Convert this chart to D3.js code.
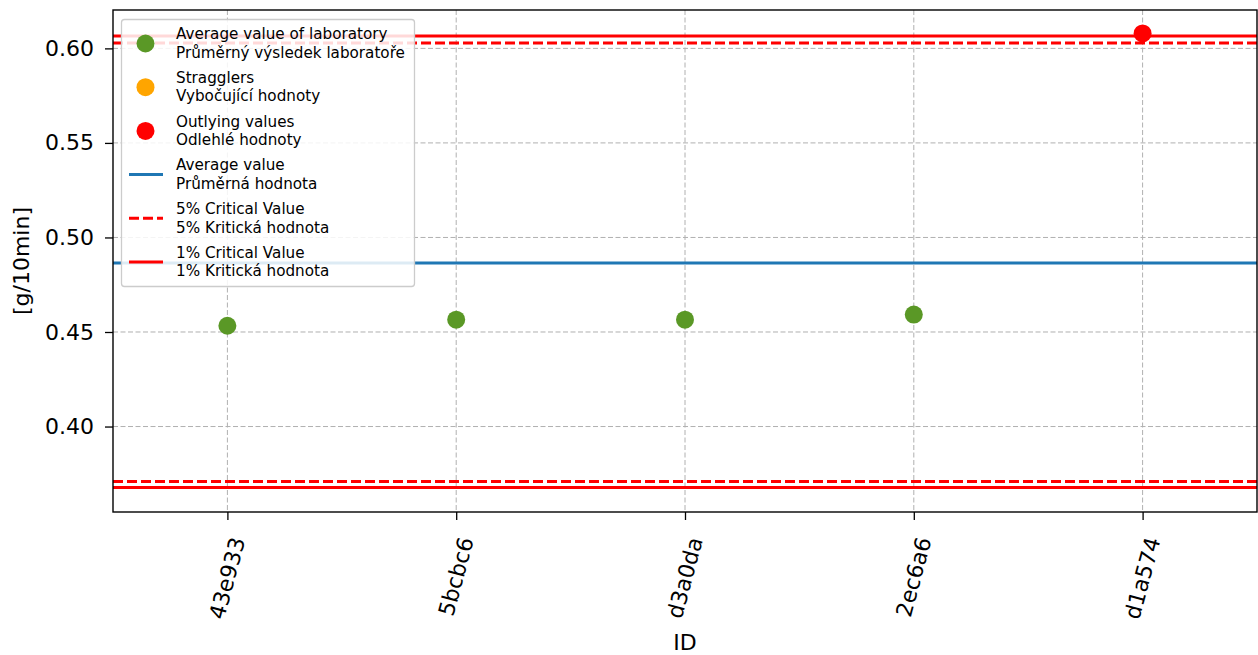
<!DOCTYPE html>
<html>
<head>
<meta charset="utf-8">
<script src="https://cdn.jsdelivr.net/npm/d3@7"></script>
<style>
  html, body { margin: 0; padding: 0; background: #fff; }
  svg { display: block; }
</style>
</head>
<body>
<svg id="chart" width="1258" height="655"></svg>
<script>
// ---- data ----
const ids = ["43e933", "5bcbc6", "d3a0da", "2ec6a6", "d1a574"];
const values = [0.4533, 0.4565, 0.4565, 0.4592, 0.6079];
const status = ["normal", "normal", "normal", "normal", "outlier"];
const averageValue = 0.4865;
const crit5 = [0.3709, 0.6029];
const crit1 = [0.3677, 0.6066];
const yTicks = [0.40, 0.45, 0.50, 0.55, 0.60];
const yDomain = [0.3548, 0.6203];
const yLabel = "[g/10min]";
const xLabel = "ID";
const legendItems = [
  { kind: "dot", color: "#5a9826", l1: "Average value of laboratory", l2: "Průměrný výsledek laboratoře" },
  { kind: "dot", color: "#ffa500", l1: "Stragglers", l2: "Vybočující hodnoty" },
  { kind: "dot", color: "#ff0000", l1: "Outlying values", l2: "Odlehlé hodnoty" },
  { kind: "line", color: "#1f77b4", dash: null, l1: "Average value", l2: "Průměrná hodnota" },
  { kind: "line", color: "#ff0000", dash: "10,4", l1: "5% Critical Value", l2: "5% Kritická hodnota" },
  { kind: "line", color: "#ff0000", dash: null, l1: "1% Critical Value", l2: "1% Kritická hodnota" }
];
const colorByStatus = { normal: "#5a9826", straggler: "#ffa500", outlier: "#ff0000" };

// ---- layout ----
const W = 1258, H = 655;
const m = { left: 113, right: 1, top: 10, bottom: 143 };
const x0 = m.left, x1 = W - m.right, y0 = m.top, y1 = H - m.bottom;
const tickFont = "'DejaVu Sans', sans-serif";
const tickSize = 22;
const legendFont = "'DejaVu Sans', sans-serif";
const legendSize = 15.2;

const svg = d3.select("#chart");
const x = d3.scalePoint().domain(ids).range([x0, x1]).padding(0.5);
const y = d3.scaleLinear().domain(yDomain).range([y1, y0]);

// grid
const grid = svg.append("g");
grid.selectAll("line.gx").data(ids).join("line")
  .attr("x1", d => x(d)).attr("x2", d => x(d))
  .attr("y1", y0).attr("y2", y1)
  .attr("stroke", "#b0b0b0").attr("stroke-width", 1).attr("stroke-dasharray", "5,2.5");
grid.selectAll("line.gy").data(yTicks).join("line")
  .attr("x1", x0).attr("x2", x1)
  .attr("y1", d => y(d)).attr("y2", d => y(d))
  .attr("stroke", "#b0b0b0").attr("stroke-width", 1).attr("stroke-dasharray", "5,2.5");

// reference lines
const refs = svg.append("g");
function hline(v, color, dash, w) {
  refs.append("line")
    .attr("x1", x0).attr("x2", x1)
    .attr("y1", y(v)).attr("y2", y(v))
    .attr("stroke", color).attr("stroke-width", w)
    .attr("stroke-dasharray", dash);
}
hline(averageValue, "#1f77b4", null, 3);
crit5.forEach(v => hline(v, "#ff0000", "10,4", 3));
crit1.forEach(v => hline(v, "#ff0000", null, 3));

// points
svg.append("g").selectAll("circle").data(ids).join("circle")
  .attr("cx", d => x(d))
  .attr("cy", (d, i) => y(values[i]))
  .attr("r", 9)
  .attr("fill", (d, i) => colorByStatus[status[i]]);

// frame
svg.append("rect").attr("x", x0).attr("y", y0)
  .attr("width", x1 - x0).attr("height", y1 - y0)
  .attr("fill", "none").attr("stroke", "#000").attr("stroke-width", 1.4);

// y axis
const yAxis = d3.axisLeft(y).tickValues(yTicks).tickFormat(d3.format(".2f"))
  .tickSize(8).tickPadding(11);
const gy = svg.append("g").attr("transform", `translate(${x0},0)`).call(yAxis);
gy.select(".domain").remove();
gy.selectAll(".tick line").attr("stroke", "#000").attr("stroke-width", 1.3);
gy.selectAll(".tick text").attr("font-family", tickFont).attr("font-size", tickSize).attr("fill", "#000");

// x axis
const xAxis = d3.axisBottom(x).tickSize(8).tickFormat("");
const gx = svg.append("g").attr("transform", `translate(0,${y1})`).call(xAxis);
gx.select(".domain").remove();
gx.selectAll(".tick line").attr("stroke", "#000").attr("stroke-width", 1.3);

// rotated x tick labels (bbox centered under tick)
const rot = 75 * Math.PI / 180;
const labTop = y1 + 23;
svg.append("g").selectAll("text").data(ids).join("text")
  .attr("font-family", tickFont).attr("font-size", tickSize).attr("fill", "#000")
  .attr("text-anchor", "middle").attr("dominant-baseline", "central")
  .text(d => d)
  .each(function(d) {
    const w = this.getComputedTextLength();
    const hh = w * Math.sin(rot) + tickSize * 1.0 * Math.cos(rot);
    d3.select(this).attr("transform", `translate(${x(d)},${labTop + hh / 2}) rotate(-75)`);
  });

// axis labels
svg.append("text").attr("x", (x0 + x1) / 2).attr("y", 650)
  .attr("text-anchor", "middle").attr("font-family", tickFont).attr("font-size", tickSize)
  .text(xLabel);
svg.append("text")
  .attr("transform", `translate(29,${(y0 + y1) / 2}) rotate(-90)`)
  .attr("text-anchor", "middle").attr("font-family", tickFont).attr("font-size", tickSize)
  .text(yLabel);

// legend
const lg = svg.append("g");
lg.append("rect").attr("x", 121.5).attr("y", 19.5).attr("width", 293).attr("height", 267)
  .attr("rx", 3).attr("fill", "#fff").attr("fill-opacity", 0.85)
  .attr("stroke", "#cccccc").attr("stroke-width", 1.3);
const entryY0 = 43.5, entryStep = 43.7;
legendItems.forEach((it, i) => {
  const cy = entryY0 + i * entryStep;
  if (it.kind === "dot") {
    lg.append("circle").attr("cx", 145.5).attr("cy", cy).attr("r", 9).attr("fill", it.color);
  } else {
    lg.append("line").attr("x1", 129).attr("x2", 163).attr("y1", cy).attr("y2", cy)
      .attr("stroke", it.color).attr("stroke-width", 3).attr("stroke-dasharray", it.dash);
  }
  [it.l1, it.l2].forEach((t, k) => {
    lg.append("text").attr("x", 176).attr("y", cy - 9.2 + k * 18.4)
      .attr("dominant-baseline", "central")
      .attr("font-family", legendFont).attr("font-size", legendSize).attr("fill", "#000")
      .text(t);
  });
});
</script>
</body>
</html>
